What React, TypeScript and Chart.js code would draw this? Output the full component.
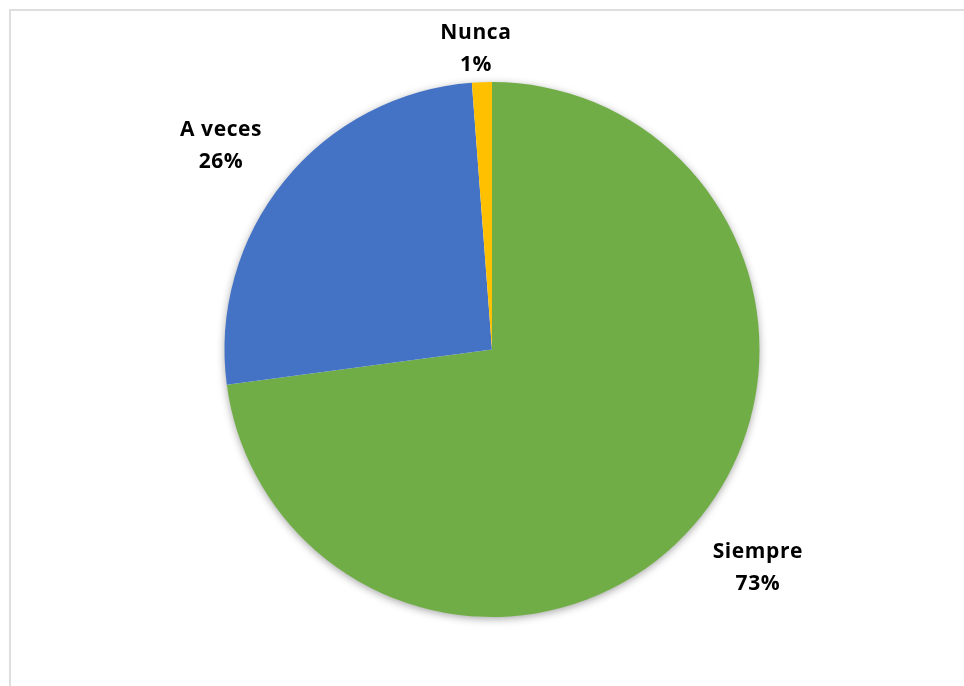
import React, { useEffect, useRef } from "react";
import { Chart, registerables } from "chart.js";

Chart.register(...registerables);

const categories = ["Siempre", "A veces", "Nunca"];
const values = [72.9, 25.9, 1.2];
const colors = ["#70AD47", "#4472C4", "#FFC000"];

// label block centre, in units of the pie radius, relative to the pie centre
const labelOffsets = [
  [0.994, 0.811],
  [-1.013, -0.766],
  [-0.06, -1.129],
];

const shadowPlugin = {
  id: "pieShadow",
  beforeDatasetsDraw(chart: any) {
    const arc = chart.getDatasetMeta(0).data[0];
    if (!arc) return;
    const { x, y, outerRadius } = arc.getProps(["x", "y", "outerRadius"], true);
    const ctx = chart.ctx;
    ctx.save();
    ctx.shadowColor = "rgba(0,0,0,0.38)";
    ctx.shadowBlur = 9;
    ctx.shadowOffsetY = 2;
    ctx.fillStyle = "#ffffff";
    ctx.beginPath();
    ctx.arc(x, y, outerRadius - 0.5, 0, Math.PI * 2);
    ctx.fill();
    ctx.restore();
  },
};

const labelPlugin = {
  id: "pieLabels",
  afterDatasetsDraw(chart: any) {
    const meta = chart.getDatasetMeta(0);
    const ctx = chart.ctx;
    const total = values.reduce((a, b) => a + b, 0);
    ctx.save();
    ctx.fillStyle = "#000000";
    ctx.font = "bold 21px 'Open Sans'";
    try {
      (ctx as any).letterSpacing = "0.6px";
    } catch (e) {}
    ctx.textAlign = "center";
    ctx.textBaseline = "alphabetic";
    meta.data.forEach((arc: any, i: number) => {
      const { x, y, outerRadius } = arc.getProps(["x", "y", "outerRadius"], true);
      const cx = x + labelOffsets[i][0] * outerRadius;
      const cy = y + labelOffsets[i][1] * outerRadius;
      const pct = Math.round((values[i] / total) * 100) + "%";
      ctx.fillText(categories[i], cx, cy - 16 + 7.5);
      ctx.fillText(pct, cx, cy + 16 + 7.5);
    });
    ctx.restore();
  },
};

export default function App() {
  const canvasRef = useRef<HTMLCanvasElement | null>(null);

  useEffect(() => {
    if (!canvasRef.current) return;
    const chart = new Chart(canvasRef.current, {
      type: "pie",
      data: {
        labels: categories,
        datasets: [
          {
            data: values,
            backgroundColor: colors,
            borderWidth: 0,
          },
        ],
      },
      options: {
        responsive: false,
        animation: false,
        layout: { padding: { top: 82, bottom: 69, left: 20, right: 0 } },
        plugins: {
          legend: { display: false },
          tooltip: { enabled: false },
          title: { display: false },
        },
      },
      plugins: [shadowPlugin, labelPlugin],
    });
    return () => chart.destroy();
  }, []);

  return (
    <div
      style={{
        position: "fixed",
        left: 0,
        top: 0,
        width: 964,
        height: 686,
        overflow: "hidden",
        background: "#ffffff",
      }}
    >
      <div
        style={{
          position: "absolute",
          left: 9,
          top: 9,
          width: 1000,
          height: 720,
          border: "2px solid #dedede",
          boxSizing: "border-box",
        }}
      />
      <canvas
        ref={canvasRef}
        width={964}
        height={686}
        style={{ position: "absolute", left: 0, top: 0, width: 964, height: 686 }}
      />
    </div>
  );
}
